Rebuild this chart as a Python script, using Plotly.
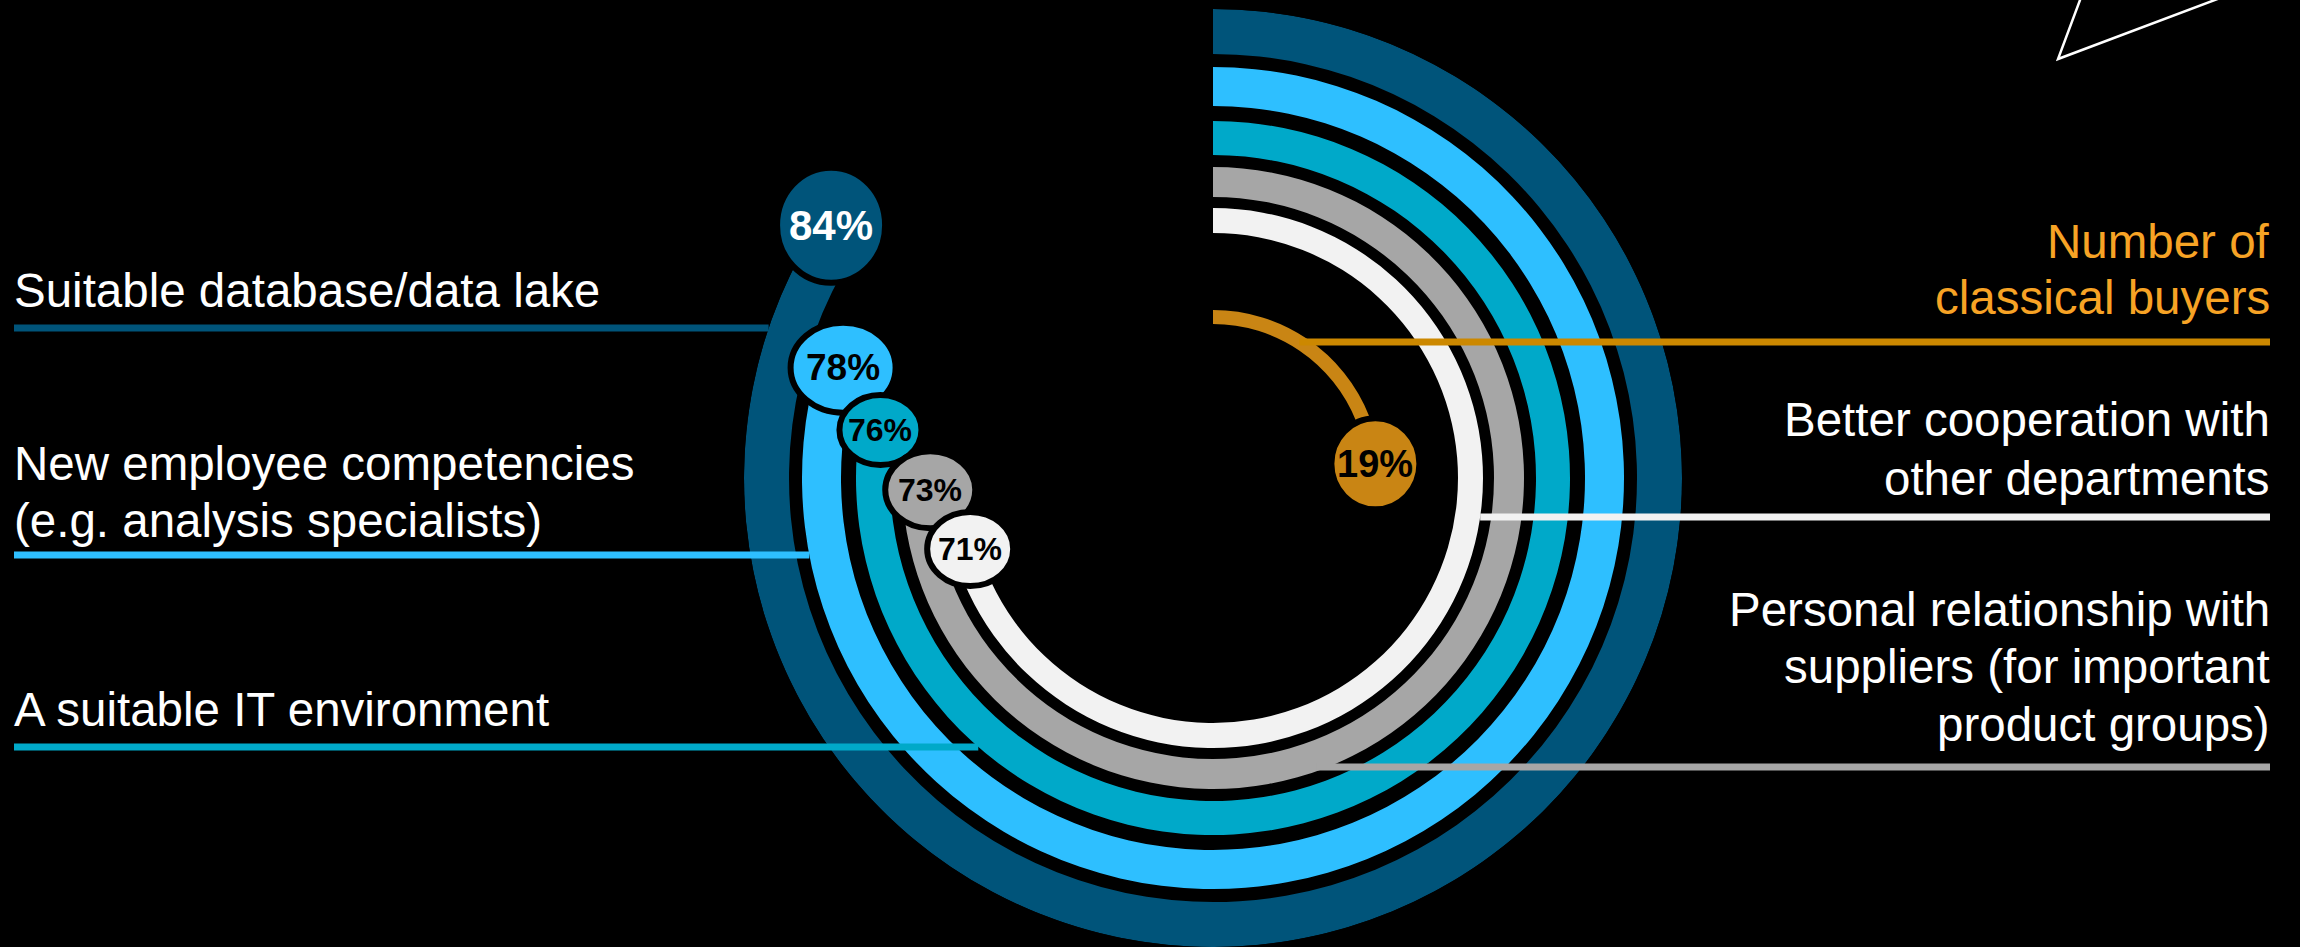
import math
import plotly.graph_objects as go

W, H = 2300, 947

# ---- data -------------------------------------------------------------
categories = [
    "Suitable database/data lake",
    "New employee competencies (e.g. analysis specialists)",
    "A suitable IT environment",
    "Personal relationship with suppliers (for important product groups)",
    "Better cooperation with other departments",
    "Number of classical buyers",
]
shares = [84, 78, 76, 73, 71, 19]  # percent
value_labels = ["84%", "78%", "76%", "73%", "71%", "19%"]
label_lines = [
    ["Suitable database/data lake"],
    ["New employee competencies", "(e.g. analysis specialists)"],
    ["A suitable IT environment"],
    ["Personal relationship with", "suppliers (for important", "product groups)"],
    ["Better cooperation with", "other departments"],
    ["Number of", "classical buyers"],
]

# ---- styling / layout constants --------------------------------------
CX, CY = 1213, 478          # ring centre (px)
R_MAX = 469                 # outer radius of the largest ring (px)
ring_inner = [424, 372, 323, 281, 245, 154]
ring_outer = [469, 411, 357, 311, 270, 168]
ring_colors = ["#00547A", "#2EBFFF", "#00A9C9", "#A6A6A6", "#F2F2F2", "#C98514"]
leader_colors = ["#00547A", "#2EBFFF", "#00A9C9", "#A6A6A6", "#F2F2F2", "#CC8800"]
text_colors = ["#FFFFFF"] * 5 + ["#F7A325"]
label_side = ["left", "left", "left", "right", "right", "right"]
leader_y = [328, 555, 747, 767, 517, 342]
leader_inset = [0, 0, 0, 4, 0, 7]   # how far inside the ring's outer edge a leader starts
baselines = [[307], [480, 537], [726], [626, 683, 741], [436, 495], [258, 314]]
LEFT_X, RIGHT_X = 14, 2270
LABEL_FS = 47.5
LEADER_W = 7

# value bubbles: angular / radial nudge from the arc end, ellipse half-axes, font size
bubble_dtheta = [1.1, 5.8, 4.6, 4.8, -1.9, 16.6]
bubble_dr = [11.5, -5.5, -4, -13, -4.5, 2]
bubble_semi = [(51, 54.5), (49.5, 42), (38, 32), (42, 35.5), (40, 34), (41, 42.5)]
bubble_fs = [42, 37, 32, 32, 32, 38]
bubble_text = ["#FFFFFF", "#000000", "#000000", "#000000", "#000000", "#000000"]
OUTLINE = 6

FONT = "Liberation Sans, Arial, sans-serif"

fig = go.Figure()

# rings: one annular sector per category, starting at 12 o'clock, clockwise
fig.add_trace(go.Barpolar(
    r=[o - i for i, o in zip(ring_inner, ring_outer)],
    base=ring_inner,
    theta=[v * 3.6 / 2 for v in shares],
    width=[v * 3.6 for v in shares],
    marker=dict(color=ring_colors, line=dict(width=0)),
    hoverinfo="skip",
))

# pixel-space cartesian frame for leaders, bubbles and labels
fig.add_trace(go.Scatter(x=[0, W], y=[0, H], mode="markers",
                         marker=dict(opacity=0), hoverinfo="skip"))

shapes = []
annotations = []

# leader lines, ending on the edge of their own ring
for k in range(len(shares)):
    y = leader_y[k]
    r = ring_outer[k] - leader_inset[k]
    dx = math.sqrt(max(r ** 2 - (y - CY) ** 2, 0))
    if label_side[k] == "left":
        x0, x1 = LEFT_X, CX - dx
    else:
        x0, x1 = CX + dx, RIGHT_X
    shapes.append(dict(type="line", xref="x", yref="y", x0=x0, x1=x1, y0=y, y1=y,
                       line=dict(color=leader_colors[k], width=LEADER_W), layer="above"))

# category labels
for k in range(len(shares)):
    for txt, b in zip(label_lines[k], baselines[k]):
        left = label_side[k] == "left"
        annotations.append(dict(
            x=LEFT_X if left else RIGHT_X, y=b + 0.212 * LABEL_FS,
            xref="x", yref="y", xanchor="left" if left else "right", yanchor="bottom",
            text=txt, showarrow=False, borderpad=0, borderwidth=0,
            font=dict(family=FONT, size=LABEL_FS, color=text_colors[k]),
        ))

# value bubbles at the end of each arc
for k in range(len(shares)):
    ang = math.radians(shares[k] * 3.6 + bubble_dtheta[k])
    rm = (ring_inner[k] + ring_outer[k]) / 2 + bubble_dr[k]
    bx = CX + rm * math.sin(ang)
    by = CY - rm * math.cos(ang)
    ax, ay = bubble_semi[k]
    ax += OUTLINE / 2
    ay += OUTLINE / 2
    shapes.append(dict(type="circle", xref="x", yref="y",
                       x0=bx - ax, x1=bx + ax, y0=by - ay, y1=by + ay,
                       fillcolor=ring_colors[k], line=dict(color="#000000", width=OUTLINE),
                       layer="above"))
    annotations.append(dict(
        x=bx, y=by, xref="x", yref="y", xanchor="center", yanchor="middle",
        text="<b>%s</b>" % value_labels[k], showarrow=False, borderpad=0, borderwidth=0,
        font=dict(family=FONT, size=bubble_fs[k], color=bubble_text[k]),
    ))

# decorative outline in the top-right corner
shapes.append(dict(type="path", xref="x", yref="y",
                   path="M 2087.5,-20 L 2058,59 L 2268,-20",
                   line=dict(color="#FFFFFF", width=2.5), layer="above"))

fig.update_layout(
    width=W, height=H,
    margin=dict(l=0, r=0, t=0, b=0),
    paper_bgcolor="#000000", plot_bgcolor="#000000",
    showlegend=False,
    polar=dict(
        domain=dict(x=[(CX - R_MAX) / W, (CX + R_MAX) / W],
                    y=[(H - CY - R_MAX) / H, (H - CY + R_MAX) / H]),
        bgcolor="rgba(0,0,0,0)",
        hole=0,
        radialaxis=dict(range=[0, R_MAX], visible=False, showgrid=False),
        angularaxis=dict(rotation=90, direction="clockwise", visible=False, showgrid=False),
    ),
    xaxis=dict(range=[0, W], visible=False, domain=[0, 1], fixedrange=True),
    yaxis=dict(range=[H, 0], visible=False, domain=[0, 1], fixedrange=True),
    shapes=shapes,
    annotations=annotations,
)

fig.write_html("out.html")
